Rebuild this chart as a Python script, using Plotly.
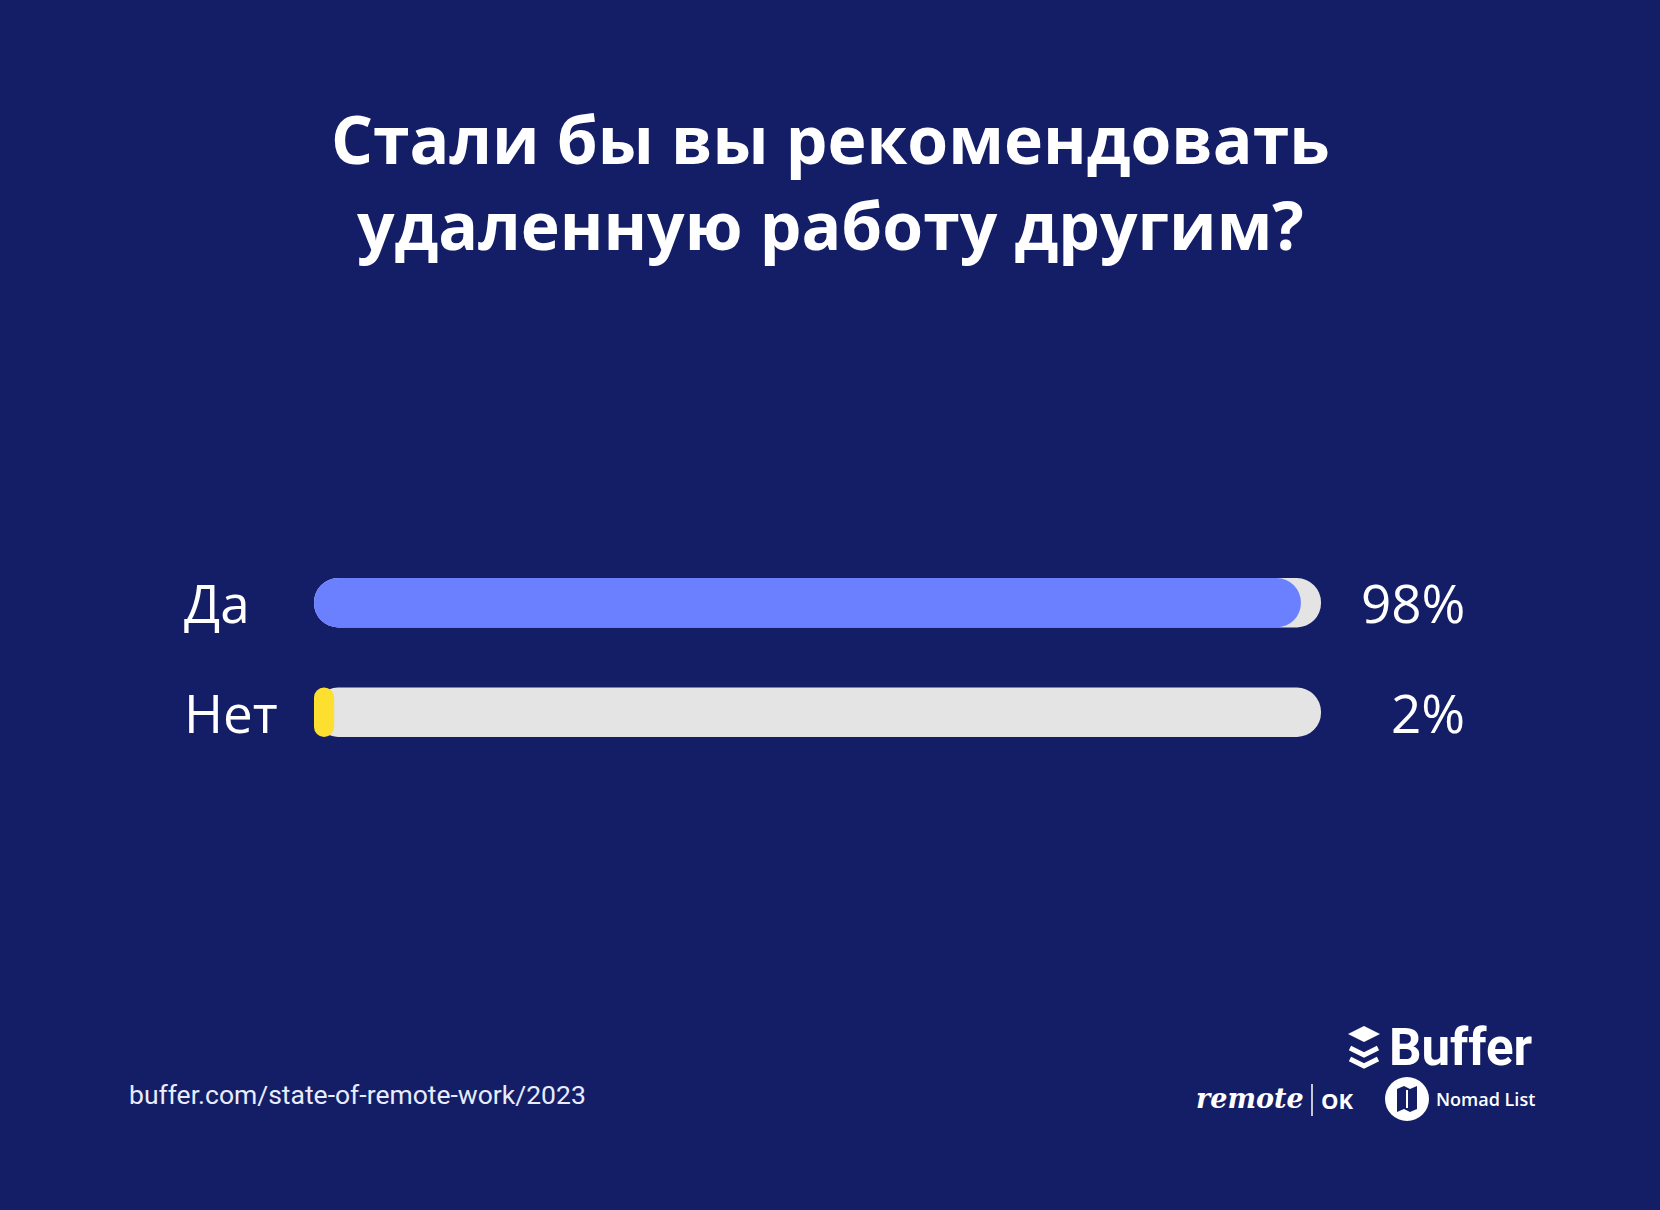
"""Опрос Buffer 2023: стали бы вы рекомендовать удаленную работу."""

import plotly.graph_objects as go

ОТВЕТЫ = ["Да", "Нет"]
ДОЛИ = [98, 2]
ШКАЛА = 100
ЦВЕТА = ["#6b80ff", "#fde02f"]
ЗАГОЛОВОК = ["Стали бы вы рекомендовать", "удаленную работу другим?"]

ФОН = "#141e66"
ТРЕК = "#e4e4e4"
БЕЛЫЙ = "#ffffff"

W, H = 1660, 1210
# область построения в пикселях
L, R, T, B = 314, 1321, 548, 767
РАДИУС = 25


def px(x, y):
    """Пиксели страницы -> координаты paper."""
    return (x - L) / (R - L), (B - y) / (B - T)


fig = go.Figure()
# base задан явно -> plotly скругляет бар с обеих сторон
fig.add_trace(go.Bar(
    x=[ШКАЛА] * len(ОТВЕТЫ), base=[0] * len(ОТВЕТЫ), y=ОТВЕТЫ, orientation="h",
    width=0.45, showlegend=False, hoverinfo="skip",
    marker=dict(color=ТРЕК, cornerradius=РАДИУС, line=dict(width=0)),
))
fig.add_trace(go.Bar(
    x=ДОЛИ, base=[0] * len(ОТВЕТЫ), y=ОТВЕТЫ, orientation="h",
    width=0.45, showlegend=False, hovertemplate="%{y}: %{x}%<extra></extra>",
    marker=dict(color=ЦВЕТА, cornerradius=РАДИУС, line=dict(width=0)),
))

ann = []
for отв, доля in zip(ОТВЕТЫ, ДОЛИ):
    ann.append(dict(x=px(182, 0)[0], y=отв, xref="paper", yref="y", text=отв,
                    xanchor="left", yanchor="middle", showarrow=False,
                    font=dict(family="Open Sans", size=53, color=БЕЛЫЙ)))
    ann.append(dict(x=px(1467, 0)[0], y=отв, xref="paper", yref="y", text=f"{доля}%",
                    xanchor="right", yanchor="middle", showarrow=False,
                    font=dict(family="Open Sans", size=53, color=БЕЛЫЙ)))

# заголовок в две строки
x0, y0 = px(830, 181)
ann.append(dict(x=x0, y=y0, xref="paper", yref="paper",
                text="<br>".join(f"<b>{s}</b>" for s in ЗАГОЛОВОК),
                xanchor="center", yanchor="middle", showarrow=False, align="center",
                font=dict(family="Open Sans", size=66, color=БЕЛЫЙ)))

# подпись и логотипы
x0, y0 = px(127, 1094)
ann.append(dict(x=x0, y=y0, xref="paper", yref="paper", text="buffer.com/state-of-remote-work/2023",
                xanchor="left", yanchor="middle", showarrow=False,
                font=dict(family="Roboto", size=26.5, color="#e8ecff")))
x0, y0 = px(1535, 1047)
ann.append(dict(x=x0, y=y0, xref="paper", yref="paper", text="<b>Buffer</b>",
                xanchor="right", yanchor="middle", showarrow=False,
                font=dict(family="Roboto", size=51, color=БЕЛЫЙ)))
x0, y0 = px(1250, 1098)
ann.append(dict(x=x0, y=y0, xref="paper", yref="paper", text="<b><i>remote</i></b>",
                xanchor="center", yanchor="middle", showarrow=False,
                font=dict(family="DejaVu Serif", size=27, color=БЕЛЫЙ)))
x0, y0 = px(1337, 1100)
ann.append(dict(x=x0, y=y0, xref="paper", yref="paper", text="<b>OK</b>",
                xanchor="center", yanchor="middle", showarrow=False,
                font=dict(family="Open Sans", size=22, color=БЕЛЫЙ)))
x0, y0 = px(1434, 1099)
ann.append(dict(x=x0, y=y0, xref="paper", yref="paper", text="Nomad List",
                xanchor="left", yanchor="middle", showarrow=False,
                font=dict(family="Open Sans", size=18, weight=600, color=БЕЛЫЙ)))

shapes = []
# иконка Buffer: ромб сверху и два шеврона
xa, ya = px(1348, 1034)
xb, yb = px(1364, 1026)
xc, yc = px(1380, 1034)
xd, yd = px(1364, 1042)
shapes.append(dict(type="path", xref="paper", yref="paper",
                   path=f"M{xa},{ya} L{xb},{yb} L{xc},{yc} L{xd},{yd} Z",
                   fillcolor=БЕЛЫЙ, line=dict(width=0)))
for dy in (12, 23):
    xa, ya = px(1350, 1036 + dy)
    xb, yb = px(1364, 1043 + dy)
    xc, yc = px(1378, 1036 + dy)
    shapes.append(dict(type="path", xref="paper", yref="paper",
                       path=f"M{xa},{ya} L{xb},{yb} L{xc},{yc}",
                       line=dict(color=БЕЛЫЙ, width=5)))
# разделитель remote | OK
xa, ya = px(1312, 1084)
xb, yb = px(1312, 1116)
shapes.append(dict(type="line", xref="paper", yref="paper", x0=xa, y0=ya, x1=xb, y1=yb,
                   line=dict(color=БЕЛЫЙ, width=1.5)))
# круг Nomad List со значком карты
xa, ya = px(1385, 1077)
xb, yb = px(1429, 1121)
shapes.append(dict(type="circle", xref="paper", yref="paper", x0=xa, y0=ya, x1=xb, y1=yb,
                   fillcolor=БЕЛЫЙ, line=dict(width=0)))
pts = [px(1397, 1089), px(1404, 1086), px(1410, 1089), px(1417, 1086),
       px(1417, 1109), px(1410, 1112), px(1404, 1109), px(1397, 1112)]
shapes.append(dict(type="path", xref="paper", yref="paper",
                   path="M" + " L".join(f"{a},{b}" for a, b in pts) + " Z",
                   fillcolor=ФОН, line=dict(width=0)))
xa, ya = px(1406, 1090)
xb, yb = px(1408, 1108)
shapes.append(dict(type="rect", xref="paper", yref="paper", x0=xa, y0=ya, x1=xb, y1=yb,
                   fillcolor=БЕЛЫЙ, line=dict(width=0)))

fig.update_layout(
    width=W, height=H, barmode="overlay",
    margin=dict(l=L, r=W - R, t=T, b=H - B, pad=0),
    paper_bgcolor=ФОН, plot_bgcolor=ФОН,
    annotations=ann, shapes=shapes, showlegend=False,
)
fig.update_xaxes(range=[0, ШКАЛА], visible=False, fixedrange=True)
fig.update_yaxes(range=[1.5, -0.5], visible=False, fixedrange=True,
                 categoryorder="array", categoryarray=ОТВЕТЫ)

fig.write_html("out.html", config={"displayModeBar": False},
               post_script="document.body.style.margin='0';")
